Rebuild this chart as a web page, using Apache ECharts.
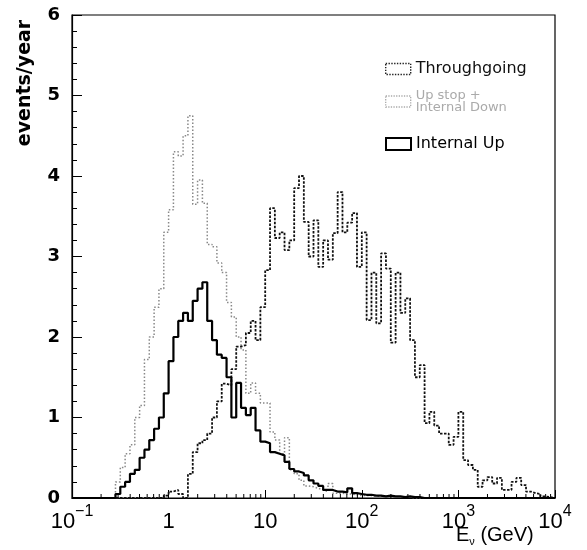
<!DOCTYPE html>
<html lang="en">
<head>
<meta charset="UTF-8">
<title>events/year vs E</title>
<script src="https://cdn.jsdelivr.net/npm/echarts@6/dist/echarts.min.js"></script>
<style>html,body{margin:0;padding:0;background:#fff;}</style>
</head>
<body>
<div id="main" style="width:587px;height:550px;"></div>
<script type="text/javascript">
// log bins: 20 per decade starting at 0.1 GeV
var eMin = 0.1;
var binsPerDecade = 20;

// events/year per bin
var throughgoing = [
    0, 0, 0, 0, 0, 0, 0, 0, 0, 0, 0, 0, 0, 0, 0, 0, 0, 0, 0, 0.03,
    0.08, 0.1, 0.05, 0, 0.3, 0.57, 0.68, 0.72, 0.8, 1.0, 1.2, 1.42, 1.4, 1.6, 1.88, 1.9, 2.05, 2.2, 1.96, 2.37,
    2.83, 3.6, 3.23, 3.3, 3.08, 3.2, 3.85, 4.0, 3.43, 3.0, 3.45, 2.87, 3.2, 2.96, 3.29, 3.8, 3.3, 3.42, 3.54, 2.87,
    3.3, 2.21, 2.8, 2.17, 3.04, 2.85, 1.93, 2.8, 2.3, 2.48, 1.96, 1.5, 1.65, 0.93, 1.07, 0.9, 0.8, 0.8, 0.66, 0.76,
    1.07, 0.47, 0.41, 0.35, 0.14, 0.22, 0.26, 0.18, 0.25, 0.1, 0.1, 0.2, 0.25, 0.16, 0.08, 0.06, 0.05, 0.02, 0.01, 0
];
var upStopInternalDown = [
    0, 0, 0, 0, 0, 0, 0, 0, 0, 0.2, 0.38, 0.55, 0.66, 1.0, 1.15, 1.72, 2.0, 2.37, 2.6, 3.3,
    3.58, 4.3, 4.25, 4.5, 4.75, 3.65, 3.95, 3.66, 3.15, 3.12, 2.92, 2.8, 2.43, 2.25, 2.0, 1.84, 1.3, 1.43, 1.3, 1.18,
    1.18, 0.82, 0.72, 0.55, 0.75, 0.35, 0.3, 0.22, 0.15, 0.14, 0.12, 0.1, 0.08, 0.18, 0.06, 0.06, 0.05, 0.05, 0.04, 0.03,
    0.03, 0.03, 0.02, 0.02, 0.02, 0.01, 0.01, 0.01, 0.01, 0.01, 0, 0, 0, 0, 0, 0, 0, 0, 0, 0,
    0, 0, 0, 0, 0, 0, 0, 0, 0, 0, 0, 0, 0, 0, 0, 0, 0, 0, 0, 0
];
var internalUp = [
    0, 0, 0, 0, 0, 0, 0, 0, 0, 0.05, 0.14, 0.2, 0.3, 0.35, 0.5, 0.6, 0.72, 0.86, 1.0, 1.3,
    1.7, 2.0, 2.2, 2.3, 2.2, 2.45, 2.6, 2.68, 2.2, 1.96, 1.78, 1.74, 1.5, 1.0, 1.43, 1.12, 1.03, 1.12, 0.84, 0.7,
    0.68, 0.57, 0.55, 0.53, 0.45, 0.36, 0.33, 0.31, 0.28, 0.22, 0.18, 0.15, 0.1, 0.1, 0.08, 0.08, 0.07, 0.12, 0.06, 0.05,
    0.04, 0.04, 0.03, 0.03, 0.02, 0.03, 0.02, 0.02, 0.01, 0.02, 0.01, 0.01, 0, 0, 0, 0, 0, 0, 0, 0,
    0, 0, 0, 0, 0, 0, 0, 0, 0, 0, 0, 0, 0, 0, 0, 0, 0, 0, 0, 0
];

var minorMantissa = [2, 3, 4, 5, 6, 7, 8, 9];
var decades = [-1, 0, 1, 2, 3];

function binEdge(k) {
    return eMin * Math.pow(10, k / binsPerDecade);
}
// turn bin contents into a step outline
function histPoints(values) {
    var pts = [];
    for (var k = 0; k < values.length; k++) {
        pts.push([binEdge(k), values[k]]);
        pts.push([binEdge(k + 1), values[k]]);
    }
    return pts;
}
var minorTicks = [];
decades.forEach(function (d) {
    minorMantissa.forEach(function (m) {
        minorTicks.push([m * Math.pow(10, d), 0]);
    });
});

var chart = echarts.init(document.getElementById('main'));

chart.setOption({
    animation: false,
    grid: {
        left: 72, right: 32, top: 15, bottom: 52,
        show: true, borderColor: '#000', borderWidth: 1.2
    },
    legend: [{
        orient: 'vertical', left: 380, top: 56,
        itemWidth: 25, itemHeight: 11, itemGap: 12, icon: 'rect',
        textStyle: {fontFamily: 'DejaVu Sans', fontSize: 16, color: '#111'},
        formatter: function (n) {
            return n === 'Up stop + Internal Down' ? 'Up stop +\nInternal Down' : n;
        },
        data: [
            {name: 'Throughgoing', itemStyle: {color: '#fff', borderColor: '#222', borderWidth: 1.4, borderType: 'dotted'}},
            {name: 'Up stop + Internal Down',
                itemStyle: {color: '#fff', borderColor: '#aaa', borderWidth: 1.3, borderType: 'dotted'},
                textStyle: {color: '#aaa', fontSize: 13, lineHeight: 12}}
        ]
    }, {
        orient: 'vertical', left: 380, top: 131,
        itemWidth: 25, itemHeight: 12, icon: 'rect',
        textStyle: {fontFamily: 'DejaVu Sans', fontSize: 16, color: '#000'},
        data: [
            {name: 'Internal Up', itemStyle: {color: '#fff', borderColor: '#000', borderWidth: 2}}
        ]
    }],
    xAxis: {
        type: 'log', logBase: 10, min: 0.1, max: 10000,
        axisLine: {lineStyle: {color: '#000', width: 1.2}},
        axisTick: {inside: true, length: 8, lineStyle: {color: '#000'}},
        splitLine: {show: false},
        axisLabel: {
            margin: 6, color: '#000',
            formatter: function (v) {
                var e = Math.round(Math.log10(v));
                if (e === 0) return '{b|1}';
                if (e === 1) return '{b|10}';
                return '{b|10}{s|' + (e < 0 ? '\u2212' + (-e) : e) + '}';
            },
            rich: {
                b: {fontFamily: 'Liberation Sans', fontSize: 22, color: '#000', lineHeight: 29, verticalAlign: 'bottom'},
                s: {fontFamily: 'Liberation Sans', fontSize: 16, color: '#000', verticalAlign: 'top'}
            }
        }
    },
    yAxis: {
        type: 'value', min: 0, max: 6, interval: 1,
        axisLine: {show: true, lineStyle: {color: '#000', width: 1.2}},
        axisTick: {show: true, inside: true, length: 10, lineStyle: {color: '#000'}},
        minorTick: {show: true, splitNumber: 5, length: 5, lineStyle: {color: '#000'}},
        splitLine: {show: false},
        axisLabel: {fontFamily: 'DejaVu Sans', fontSize: 18, fontWeight: 'bold', color: '#000', margin: 12}
    },
    graphic: [{
        type: 'text', x: 25, y: 83, rotation: Math.PI / 2,
        style: {
            text: 'events/year', fontFamily: 'DejaVu Sans', fontSize: 19, fontWeight: 'bold',
            fill: '#000', align: 'center', verticalAlign: 'middle'
        }
    }, {
        type: 'text', left: 456, top: 525,
        style: {
            text: '{e|E}{n|\u03bd}{t| (GeV)}',
            rich: {
                e: {fontFamily: 'Liberation Sans', fontSize: 20, fill: '#000', lineHeight: 22, verticalAlign: 'top'},
                n: {fontFamily: 'Liberation Sans', fontSize: 11, fill: '#000', verticalAlign: 'bottom'},
                t: {fontFamily: 'Liberation Sans', fontSize: 20, fill: '#000', verticalAlign: 'top'}
            }
        }
    }],
    series: [{
        name: 'Throughgoing', type: 'line', symbol: 'none', z: 3,
        itemStyle: {color: '#111'},
        lineStyle: {color: '#111', width: 1.8, type: [2.5, 1.5]},
        data: histPoints(throughgoing)
    }, {
        name: 'Up stop + Internal Down', type: 'line', symbol: 'none', z: 2,
        itemStyle: {color: '#999'},
        lineStyle: {color: '#888', width: 1.5, type: [1.5, 2]},
        data: histPoints(upStopInternalDown)
    }, {
        name: 'Internal Up', type: 'line', symbol: 'none', z: 4,
        itemStyle: {color: '#000'},
        lineStyle: {color: '#000', width: 2.2},
        data: histPoints(internalUp)
    }, {
        type: 'custom', silent: true, z: 5,
        data: minorTicks,
        encode: {x: 0, y: 1},
        renderItem: function (params, api) {
            var p = api.coord([api.value(0), api.value(1)]);
            return {
                type: 'line',
                shape: {x1: p[0], y1: p[1], x2: p[0], y2: p[1] - 4},
                style: {stroke: '#000', lineWidth: 1}
            };
        }
    }]
});
</script>
</body>
</html>
